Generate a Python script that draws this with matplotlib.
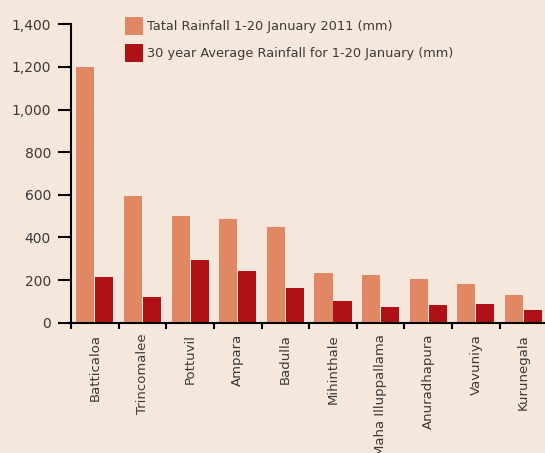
import numpy as np
import matplotlib
matplotlib.use("Agg")
import matplotlib.pyplot as plt
from matplotlib.ticker import FuncFormatter, FixedLocator

stations = ["Batticaloa", "Trincomalee", "Pottuvil", "Ampara", "Badulla",
            "Mihinthale", "Maha Illuppallama", "Anuradhapura", "Vavuniya", "Kurunegala"]
total_2011 = [1200, 594, 500, 487, 449, 233, 224, 205, 182, 130]
avg_30yr = [214, 120, 294, 243, 163, 102, 74, 83, 88, 60]
label_total = "Tatal Rainfall 1-20 January 2011 (mm)"
label_avg = "30 year Average Rainfall for 1-20 January (mm)"

bg = "#f5e7db"
c_total = "#e08864"
c_avg = "#af1117"
txt = "#3a3a3a"

plt.rcParams['font.family'] = ['DejaVu Sans']
plt.rcParams['font.size'] = 9.5

fig = plt.figure(figsize=(5.45, 4.53), dpi=100, facecolor=bg)
ax = fig.add_axes([0.1303, 0.2877, 0.874, 0.6587], facecolor=bg)

x = np.arange(len(stations))
w = 0.38
ax.bar(x - 0.01 - w / 2, total_2011, w, color=c_total, label=label_total)
ax.bar(x + 0.01 + w / 2, avg_30yr, w, color=c_avg, label=label_avg)

ax.set_xlim(-0.5, len(stations) - 0.5)
ax.set_ylim(0, 1400)
ax.set_yticks(np.arange(0, 1401, 200))
ax.yaxis.set_major_formatter(FuncFormatter(lambda v, p: "{:,.0f}".format(v)))

ax.set_xticks(x)
ax.set_xticklabels(stations, rotation=90, va="top", ha="center")
ax.xaxis.set_minor_locator(FixedLocator(np.arange(-0.5, len(stations) - 0.4, 1)))
ax.tick_params(axis="x", which="major", length=0, pad=8, colors=txt, labelsize=9.5)
ax.tick_params(axis="x", which="minor", length=4.5, width=1.5, direction="out", color="black")
ax.tick_params(axis="y", length=9.4, width=1.5, pad=5, colors=txt, labelsize=10)
ax.tick_params(axis="y", color="black")

for s in ["top", "right"]:
    ax.spines[s].set_visible(False)
for s in ["left", "bottom"]:
    ax.spines[s].set_linewidth(1.5)

leg = ax.legend(loc="upper left", bbox_to_anchor=(0.229, 0.962),
                bbox_transform=fig.transFigure, frameon=False,
                handlelength=1.4, handleheight=1.7, handletextpad=0.3,
                labelspacing=0.75, borderaxespad=0, borderpad=0, fontsize=9.3)
for t in leg.get_texts():
    t.set_color(txt)

fig.savefig("out.png", dpi=100, facecolor=bg)
